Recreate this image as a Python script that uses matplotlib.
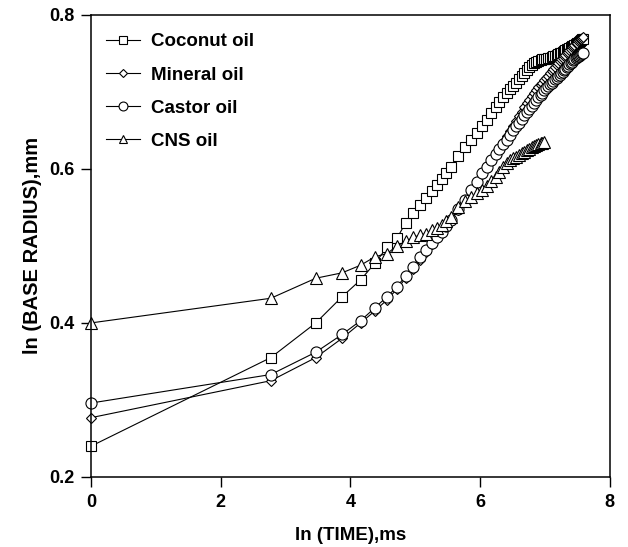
import numpy as np
import matplotlib
matplotlib.use("Agg")
import matplotlib.pyplot as plt

plt.rcParams['font.family'] = ['Liberation Sans', 'DejaVu Sans']

time_ms = [1, 16, 32, 48, 64, 80, 96, 112, 128, 144, 160, 176, 192, 208, 224, 240, 256,
           288, 320, 352, 384, 416, 448, 480, 512, 544, 576, 608, 640, 672, 704, 736, 768,
           800, 832, 864, 896, 928, 960, 992, 1024, 1056, 1088, 1120, 1152, 1184, 1216,
           1248, 1280, 1312, 1344, 1376, 1408, 1440, 1472, 1504, 1536, 1568, 1600, 1632,
           1664, 1696, 1728, 1760, 1792, 1824, 1856, 1888, 1920, 1952, 1984]

coconut = [0.240, 0.355, 0.400, 0.434, 0.456, 0.478, 0.498, 0.510, 0.530, 0.543, 0.553,
           0.562, 0.571, 0.579, 0.587, 0.594, 0.602, 0.617, 0.628, 0.638, 0.646, 0.655,
           0.664, 0.672, 0.680, 0.687, 0.693, 0.699, 0.704, 0.708, 0.712, 0.716, 0.720,
           0.724, 0.728, 0.732, 0.735, 0.737, 0.739, 0.740, 0.741, 0.742, 0.742, 0.743,
           0.744, 0.744, 0.745, 0.746, 0.747, 0.748, 0.749, 0.750, 0.751, 0.752, 0.753,
           0.754, 0.755, 0.756, 0.757, 0.758, 0.759, 0.760, 0.761, 0.762, 0.763, 0.764,
           0.765, 0.766, 0.767, 0.768, 0.769]

mineral = [0.277, 0.325, 0.355, 0.380, 0.400, 0.416, 0.430, 0.444, 0.458, 0.470, 0.482,
           0.492, 0.502, 0.510, 0.517, 0.525, 0.532, 0.546, 0.559, 0.571, 0.582, 0.593,
           0.603, 0.611, 0.620, 0.627, 0.635, 0.642, 0.649, 0.656, 0.662, 0.668, 0.674,
           0.680, 0.685, 0.690, 0.694, 0.698, 0.702, 0.706, 0.709, 0.712, 0.715, 0.718,
           0.721, 0.724, 0.727, 0.729, 0.732, 0.735, 0.737, 0.740, 0.742, 0.744, 0.746,
           0.748, 0.750, 0.752, 0.754, 0.756, 0.758, 0.760, 0.761, 0.763, 0.764, 0.766,
           0.767, 0.768, 0.769, 0.770, 0.771]

castor = [0.296, 0.333, 0.362, 0.385, 0.403, 0.420, 0.434, 0.447, 0.461, 0.473, 0.486,
          0.494, 0.504, 0.512, 0.518, 0.526, 0.533, 0.548, 0.560, 0.572, 0.583, 0.594,
          0.603, 0.611, 0.619, 0.626, 0.632, 0.638, 0.644, 0.650, 0.655, 0.660, 0.665,
          0.670, 0.674, 0.678, 0.682, 0.686, 0.690, 0.693, 0.696, 0.699, 0.702, 0.705,
          0.707, 0.710, 0.712, 0.714, 0.716, 0.718, 0.720, 0.722, 0.724, 0.726, 0.728,
          0.730, 0.732, 0.734, 0.736, 0.738, 0.739, 0.741, 0.742, 0.744, 0.745, 0.746,
          0.747, 0.748, 0.749, 0.750, 0.751]

cns = [0.400, 0.432, 0.458, 0.465, 0.475, 0.486, 0.490, 0.500, 0.506, 0.511, 0.514,
       0.516, 0.520, 0.523, 0.527, 0.532, 0.538, 0.550, 0.558, 0.563, 0.568, 0.573,
       0.578, 0.584, 0.590, 0.596, 0.602, 0.607, 0.611, 0.614, 0.616, 0.618, 0.620,
       0.622, 0.624, 0.626, 0.628, 0.630, 0.631, 0.632, 0.633, 0.634, 0.635]

labels = ["Coconut oil", "Mineral oil", "Castor oil", "CNS oil"]
markers = ["s", "D", "o", "^"]
msizes = [7.5, 5.5, 8, 8]

x_ticks = [0, 2, 4, 6, 8]
y_ticks = [0.2, 0.4, 0.6, 0.8]

fig = plt.figure(figsize=(6.28, 5.47), dpi=100)
ax = fig.add_axes([0.145, 0.128, 0.826, 0.845])

lnt = np.log(np.array(time_ms, dtype=float))
series = [coconut, mineral, castor, cns]
for ys, lab, mk, ms in zip(series, labels, markers, msizes):
    ys = np.array(ys)
    ax.plot(lnt[:len(ys)], ys, color='black', lw=0.8, marker=mk, ms=ms,
            mfc='white', mec='black', mew=0.8, label=lab, clip_on=False)

ax.set_xlim(0, 8)
ax.set_ylim(0.2, 0.8)
ax.set_xticks(x_ticks)
ax.set_yticks(y_ticks)
ax.set_xticklabels([str(v) for v in x_ticks], fontweight='bold', fontsize=13)
ax.set_yticklabels([f"{v:.1f}" for v in y_ticks], fontweight='bold', fontsize=13)
ax.tick_params(direction='out', length=7, width=1, pad=5)
for s in ax.spines.values():
    s.set_linewidth(1.1)
ax.set_xlabel("ln (TIME),ms", fontweight='bold', fontsize=13.5, labelpad=12)
ax.set_ylabel("ln (BASE RADIUS),mm", fontweight='bold', fontsize=14.5, labelpad=5)

leg = ax.legend(loc='upper left', frameon=False, prop={'weight': 'bold', 'size': 13.5},
                handlelength=1.8, handletextpad=0.6, labelspacing=0.85,
                bbox_to_anchor=(0.014, 0.976), markerscale=0.8, borderaxespad=0)

fig.savefig("out.png", dpi=100)
